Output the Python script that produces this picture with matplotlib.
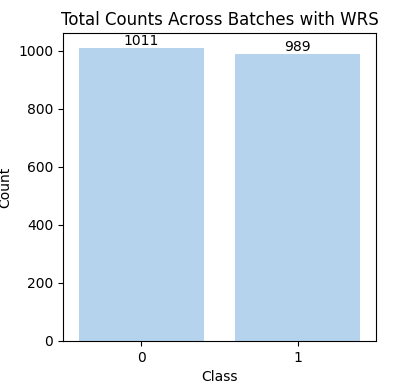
import matplotlib
matplotlib.use("Agg")
import matplotlib.pyplot as plt

classes = ["0", "1"]
counts = [1011, 989]

fig = plt.figure(figsize=(4.03, 3.92), dpi=100)
ax = fig.add_axes([63/403, 1-341/392, (376-63)/403, (341-33)/392])
bars = ax.bar(classes, counts, width=0.8, color="#b6d3ee")
ax.set_xlim(-0.5, 1.5)
ax.set_ylim(0, max(counts) * 1.05)
for b, v in zip(bars, counts):
    ax.text(b.get_x() + b.get_width()/2, v, str(v), ha="center", va="bottom", fontsize=10)
ax.set_title("Total Counts Across Batches with WRS", fontsize=12)
ax.set_xlabel("Class")
ax.set_ylabel("Count")
fig.savefig("out.png", dpi=100)
